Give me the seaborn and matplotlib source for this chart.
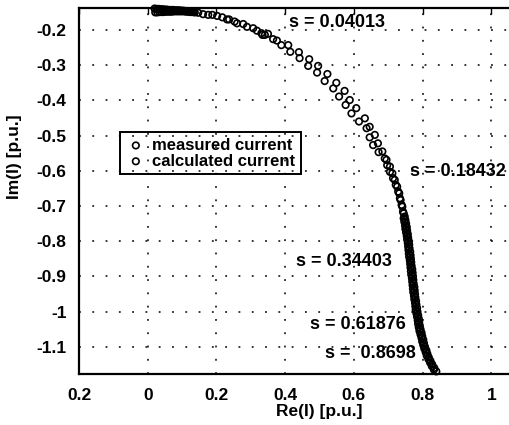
import numpy as np
import pandas as pd
import matplotlib
matplotlib.use("Agg")
import matplotlib.pyplot as plt
import seaborn as sns

# measured current locus (Re, Im)
meas_re = [0.020, 0.026, 0.032, 0.038, 0.044, 0.050, 0.056, 0.062, 0.068, 0.074,
           0.080, 0.086, 0.092, 0.098, 0.104, 0.110, 0.116, 0.122, 0.128, 0.134,
           0.147, 0.176, 0.202, 0.231, 0.253, 0.278, 0.307, 0.331,
           0.350, 0.376, 0.409, 0.440, 0.470, 0.496, 0.523, 0.549, 0.573, 0.588,
           0.607, 0.632, 0.646, 0.661, 0.670, 0.683,
           0.695, 0.705, 0.712, 0.719, 0.726, 0.732, 0.736, 0.741, 0.745,
           0.748, 0.750, 0.752, 0.754, 0.755, 0.757, 0.758, 0.760, 0.761, 0.762,
           0.764, 0.765, 0.766, 0.767, 0.768, 0.770, 0.771, 0.772, 0.773, 0.774,
           0.776, 0.777, 0.778, 0.779, 0.781, 0.782, 0.784, 0.785, 0.787, 0.789,
           0.790, 0.792, 0.794, 0.797, 0.799, 0.802, 0.804, 0.807, 0.811, 0.814,
           0.818, 0.823, 0.828, 0.834, 0.840]
meas_im = [-0.139, -0.140, -0.140, -0.141, -0.141, -0.142, -0.142, -0.143, -0.143, -0.143,
           -0.144, -0.144, -0.144, -0.145, -0.145, -0.146, -0.146, -0.147, -0.148, -0.149,
           -0.151, -0.157, -0.160, -0.170, -0.176, -0.183, -0.195, -0.209,
           -0.211, -0.230, -0.243, -0.263, -0.283, -0.302, -0.325, -0.350, -0.373, -0.399,
           -0.422, -0.451, -0.475, -0.498, -0.522, -0.545,
           -0.569, -0.588, -0.607, -0.626, -0.645, -0.664, -0.683, -0.702, -0.721,
           -0.730, -0.740, -0.750, -0.760, -0.770, -0.780, -0.790, -0.800, -0.810, -0.820,
           -0.830, -0.840, -0.850, -0.860, -0.870, -0.880, -0.890, -0.900, -0.910, -0.920,
           -0.930, -0.940, -0.950, -0.960, -0.970, -0.980, -0.990, -1.000, -1.010, -1.020,
           -1.030, -1.040, -1.050, -1.060, -1.070, -1.080, -1.090, -1.100, -1.110, -1.120,
           -1.130, -1.140, -1.150, -1.160, -1.170]

# calculated current locus (Re, Im)
calc_re = [0.022, 0.028, 0.034, 0.040, 0.046, 0.052, 0.058, 0.064, 0.070, 0.076,
           0.082, 0.088, 0.094, 0.100, 0.106, 0.112, 0.118, 0.124, 0.130, 0.137,
           0.161, 0.188, 0.217, 0.237, 0.260, 0.289, 0.318, 0.341,
           0.334, 0.365, 0.389, 0.415, 0.442, 0.467, 0.493, 0.515, 0.540, 0.557,
           0.576, 0.593, 0.615, 0.637, 0.646, 0.656, 0.672,
           0.690, 0.697, 0.705, 0.714, 0.722, 0.729, 0.734, 0.739, 0.743,
           0.745, 0.747, 0.749, 0.750, 0.752, 0.754, 0.755, 0.757, 0.758, 0.759,
           0.760, 0.761, 0.763, 0.764, 0.765, 0.766, 0.767, 0.769, 0.770, 0.771,
           0.772, 0.773, 0.775, 0.776, 0.778, 0.779, 0.780, 0.782, 0.784, 0.786,
           0.787, 0.789, 0.791, 0.794, 0.797, 0.799, 0.802, 0.805, 0.809, 0.812,
           0.817, 0.822, 0.827, 0.833]
calc_im = [-0.150, -0.150, -0.149, -0.149, -0.149, -0.148, -0.148, -0.148, -0.148, -0.147,
           -0.147, -0.147, -0.147, -0.147, -0.147, -0.148, -0.148, -0.149, -0.149, -0.150,
           -0.155, -0.157, -0.164, -0.170, -0.181, -0.191, -0.202, -0.214,
           -0.214, -0.226, -0.243, -0.262, -0.280, -0.302, -0.321, -0.345, -0.366, -0.389,
           -0.413, -0.437, -0.460, -0.479, -0.505, -0.527, -0.547,
           -0.565, -0.584, -0.603, -0.621, -0.640, -0.659, -0.678, -0.697, -0.716,
           -0.735, -0.745, -0.755, -0.765, -0.775, -0.785, -0.795, -0.805, -0.815, -0.825,
           -0.835, -0.845, -0.855, -0.865, -0.875, -0.885, -0.895, -0.905, -0.915, -0.925,
           -0.935, -0.945, -0.955, -0.965, -0.975, -0.985, -0.995, -1.005, -1.015, -1.025,
           -1.035, -1.045, -1.055, -1.065, -1.075, -1.085, -1.095, -1.105, -1.115, -1.125,
           -1.135, -1.145, -1.155, -1.165]

# slip annotations
slip_labels = ["s = 0.04013", "s = 0.18432", "s = 0.34403", "s = 0.61876", "s =  0.8698"]
slip_x = [0.410, 0.763, 0.433, 0.472, 0.515]
slip_y = [-0.180, -0.6025, -0.858, -1.038, -1.120]

x_ticks = [-0.2, 0, 0.2, 0.4, 0.6, 0.8, 1.0]
x_ticklabels = ["0.2", "0", "0.2", "0.4", "0.6", "0.8", "1"]
y_ticks = [-0.2, -0.3, -0.4, -0.5, -0.6, -0.7, -0.8, -0.9, -1.0, -1.1]
y_ticklabels = ["-0.2", "-0.3", "-0.4", "-0.5", "-0.6", "-0.7", "-0.8", "-0.9", "-1", "-1.1"]

sns.set_style("white")
plt.rcParams['font.family'] = ['Liberation Sans', 'DejaVu Sans']
plt.rcParams['font.weight'] = 'bold'
plt.rcParams['text.color'] = 'black'
plt.rcParams['axes.labelcolor'] = 'black'
plt.rcParams['xtick.color'] = 'black'
plt.rcParams['ytick.color'] = 'black'
fs = 12.5

meas = pd.DataFrame({"re": meas_re, "im": meas_im})
calc = pd.DataFrame({"re": calc_re, "im": calc_im})

fig = plt.figure(figsize=(5.09, 4.25), dpi=100)
ax = fig.add_axes([79 / 509, 51 / 425, 481 / 509, 366 / 425])

sns.scatterplot(data=meas, x="re", y="im", marker="o", s=22, facecolor="none",
                edgecolor="black", linewidth=1.2, label="measured current", ax=ax,
                clip_on=False, zorder=3)
sns.scatterplot(data=calc, x="re", y="im", marker="o", s=22, facecolor="none",
                edgecolor="black", linewidth=1.2, label="calculated current", ax=ax,
                clip_on=False, zorder=3)

ax.set_xlim(-0.2, 1.2)
ax.set_ylim(-1.1773, -0.1375)
ax.set_xticks(x_ticks)
ax.set_xticklabels(x_ticklabels, fontsize=fs, fontweight='bold', color='black')
ax.set_yticks(y_ticks)
ax.set_yticklabels(y_ticklabels, fontsize=fs, fontweight='bold', color='black')
ax.tick_params(direction="in", length=4, width=1, top=True, right=True,
               pad=9, colors="black")
ax.tick_params(axis="x", pad=10)

ax.grid(True, color="black", linestyle=(0, (1.2, 7.5)), linewidth=1.1)

for side in ["left", "bottom", "top", "right"]:
    ax.spines[side].set_linewidth(1.6)
    ax.spines[side].set_color("black")

ax.set_xlabel("Re(I) [p.u.]", fontsize=fs, fontweight='bold', color='black')
ax.set_ylabel("Im(I) [p.u.]", fontsize=fs, fontweight='bold', color='black')
ax.xaxis.set_label_coords(0.5, -0.082)
ax.xaxis.label.set_va("top")
ax.yaxis.set_label_coords(-0.118, 0.593)

for lab, xx, yy in zip(slip_labels, slip_x, slip_y):
    ax.text(xx, yy, lab, fontsize=13, fontweight='bold', ha="left", va="center",
            color='black')

leg = ax.legend(loc="upper left", bbox_to_anchor=((120 - 79) / 481, (374 - 132) / 366),
                fontsize=12, frameon=True, fancybox=False,
                edgecolor="black", borderpad=0.35, labelspacing=0.05,
                handletextpad=0.4, handlelength=1.2, borderaxespad=0)
leg.get_frame().set_facecolor("none")
leg.get_frame().set_alpha(None)
leg.get_frame().set_edgecolor("black")
leg.get_frame().set_linewidth(1.4)
for t in leg.get_texts():
    t.set_color("black")

fig.savefig("out.png", dpi=100)
